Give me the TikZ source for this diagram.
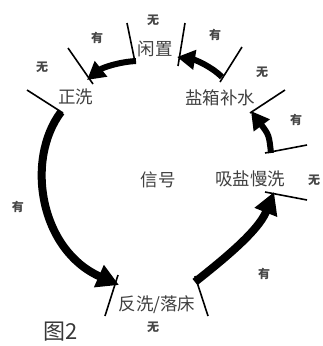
\documentclass[tikz,border=0pt]{standalone}
\usepackage{fontspec}
\setmainfont{Noto Sans CJK SC}
\usetikzlibrary{arrows.meta}
\begin{document}
\begin{tikzpicture}[x=1pt,y=-1pt,
  tick/.style={line width=1.6pt,black},
  bigarrow/.style={line width=8pt,-{Triangle[length=22pt,width=23pt]}},
  midarrow/.style={line width=6pt,-{Triangle[length=18pt,width=19pt]}},
  state/.style={font=\fontsize{17.5}{18}\selectfont,text=black!75,inner sep=0pt},
  sig/.style={font=\fontsize{12}{13}\selectfont\bfseries,text=black!72,inner sep=0pt}]
\useasboundingbox (0,0) rectangle (322,346);
% states
\node[state] (idle) at (155,49) {闲置};
\node[state] (rinse) at (76,97) {正洗};
\node[state] (refill) at (220,98) {盐箱补水};
\node[state] (signal) at (158,180) {信号};
\node[state] (brine) at (250,179) {吸盐慢洗};
\node[state] (back) at (157,305) {反洗/落床};
\node[font=\fontsize{22}{23}\selectfont,text=black!78,inner sep=0pt] (fig) at (61,332) {图2};
% signal labels
\node[sig] (s1) at (153,20) {无};
\node[sig] (s2) at (97,38) {有};
\node[sig] (s3) at (42,67) {无};
\node[sig] (s4) at (215,35) {有};
\node[sig] (s5) at (262,72) {无};
\node[sig] (s6) at (296,120) {有};
\node[sig] (s7) at (314,180) {无};
\node[sig] (s8) at (18,207) {有};
\node[sig] (s9) at (264,274) {有};
\node[sig] (s10) at (153,327) {无};
% tick end points
\coordinate (t1a) at (27,90);  \coordinate (t1b) at (63,113);
\coordinate (t2a) at (68,48);  \coordinate (t2b) at (93,84);
\coordinate (t3a) at (127,23); \coordinate (t3b) at (135,62);
\coordinate (t4a) at (185,23); \coordinate (t4b) at (178,66);
\coordinate (t5a) at (242,47); \coordinate (t5b) at (220,82);
\coordinate (t6a) at (285,90); \coordinate (t6b) at (250,113);
\coordinate (t7a) at (265,153); \coordinate (t7b) at (307,145);
\coordinate (t8a) at (265,192); \coordinate (t8b) at (307,200);
\coordinate (t9a) at (105,316); \coordinate (t9b) at (118,275);
\coordinate (t10a) at (208,316); \coordinate (t10b) at (195,276);
\foreach \i in {1,...,10} {\draw[tick] (t\i a) -- (t\i b);}
% arrow end points
\coordinate (aA1) at (136,61); \coordinate (aA2) at (87,80);
\coordinate (aB1) at (222,77); \coordinate (aB2) at (177,57);
\coordinate (aC1) at (271,153); \coordinate (aC2) at (251,111);
\coordinate (aD1) at (61,112); \coordinate (aD2) at (119,285);
\coordinate (aE1) at (195,282); \coordinate (aE2) at (274,192);
\draw[midarrow] (aA1) .. controls (118,62) and (102,68) .. (aA2);
\draw[midarrow] (aB1) .. controls (212,67) and (196,60) .. (aB2);
\draw[midarrow] (aC1) .. controls (269,135) .. (aC2);
\draw[bigarrow] (aD1) .. controls (25,160) and (40,250) .. (aD2);
\draw[bigarrow] (aE1) .. controls (220,262) and (258,232) .. (aE2);
\end{tikzpicture}
\end{document}
